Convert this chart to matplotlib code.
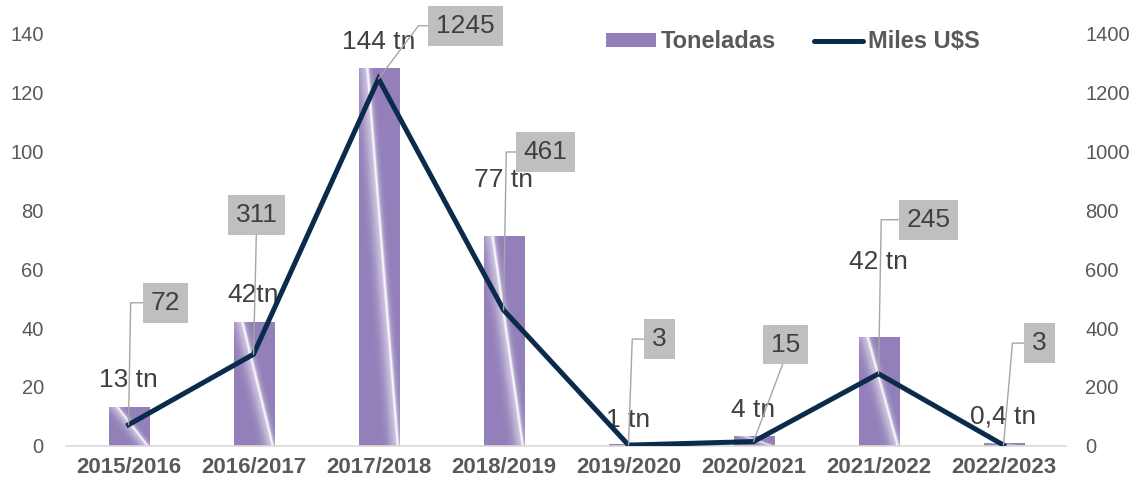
import numpy as np
import matplotlib
matplotlib.use('Agg')
import matplotlib.pyplot as plt
from matplotlib.colors import to_rgb
from matplotlib.patches import Patch
from matplotlib.lines import Line2D

plt.rcParams['font.family'] = ['Liberation Sans', 'DejaVu Sans']

campaigns = ['2015/2016', '2016/2017', '2017/2018', '2018/2019',
             '2019/2020', '2020/2021', '2021/2022', '2022/2023']
toneladas = [13.2, 42, 128, 71.2, 0.8, 3.4, 37, 1.0]
miles_usd = [72, 311, 1245, 461, 3, 15, 245, 3]
ton_labels = ['13 tn', '42tn', '144 tn', '77 tn', '1 tn', '4 tn', '42 tn', '0,4 tn']
usd_labels = ['72', '311', '1245', '461', '3', '15', '245', '3']

BAR_COLOR = '#9380BA'
LINE_COLOR = '#0B2B4C'
TEXT_COLOR = '#404040'
TICK_COLOR = '#595959'

# label placement (pixels)
ton_dy = [27, 27, 26, 56, 24, 26, 75, 27]
usd_offsets = [(37, 122), (3, 139), (87, 53), (42, 158),
               (31, 106), (32, 97), (50, 154), (36, 102)]
usd_leaders = [('angle', 89), ('straight', None), ('angle', 53), ('angle', 89),
               ('angle', 88), ('straight', None), ('angle', 89), ('angle', 85)]


def gradient_image(nx=80, ny=300):
    # white streak from top-left to bottom-right of each bar, soft halo on the left
    u, v = np.meshgrid(np.linspace(0, 1, nx), np.linspace(0, 1, ny))
    u_line = 0.95 - 0.75 * v
    du = u - u_line
    core = np.exp(-(du / 0.05) ** 2)
    halo = np.where(du < 0, 0.55 * np.exp(-(du / 0.2) ** 2), 0.4 * np.exp(-(du / 0.1) ** 2))
    w = np.clip(np.maximum(core, halo), 0, 1)
    base = np.array(to_rgb(BAR_COLOR))
    img = base + (1 - base) * w[..., None] * 0.97
    return np.clip(img, 0, 1)


fig = plt.figure(figsize=(11.48, 4.87), dpi=100)
ax = fig.add_axes([0.0575, 0.0842, 0.8711, 0.8480])
ax2 = ax.twinx()

x = np.arange(len(campaigns))
bars = ax.bar(x, toneladas, width=0.32, color='none', edgecolor='none', zorder=2)
img = gradient_image()
for rect in bars:
    x0, y0 = rect.get_x(), rect.get_y()
    w, h = rect.get_width(), rect.get_height()
    im = ax.imshow(img, extent=(x0, x0 + w, y0, y0 + h), origin='lower',
                   aspect='auto', interpolation='bilinear', zorder=2)
    im.set_clip_path(rect)

ax.set_xlim(-0.5, len(campaigns) - 0.5)
ax.set_ylim(0, 140)
ax.set_yticks(range(0, 141, 20))
ax.set_xticks(x)
ax.set_xticklabels(campaigns, fontsize=16, fontweight='bold', color=TICK_COLOR)

ax2.plot(x, miles_usd, color=LINE_COLOR, lw=3.6, solid_joinstyle='miter', zorder=3)
ax2.set_ylim(0, 1400)
ax2.set_yticks(range(0, 1401, 200))

for a in (ax, ax2):
    for s in a.spines.values():
        s.set_visible(False)
    a.tick_params(length=0, labelsize=14.5, labelcolor=TICK_COLOR)
ax.spines['bottom'].set_visible(True)
ax.spines['bottom'].set_color('#D9D9D9')
ax.spines['bottom'].set_linewidth(1.2)
ax.tick_params(axis='y', pad=16)
ax.tick_params(axis='x', pad=8, labelsize=16)
ax2.tick_params(axis='y', pad=14)

for i, (val, lab) in enumerate(zip(toneladas, ton_labels)):
    ax.annotate(lab, xy=(i, val), xytext=(0, ton_dy[i]), textcoords='offset pixels',
                ha='center', va='center', fontsize=19, color=TEXT_COLOR, zorder=4)

for i, (val, lab) in enumerate(zip(miles_usd, usd_labels)):
    kind, ang = usd_leaders[i]
    if kind == 'angle':
        conn = 'angle,angleA=0,angleB=%g,rad=0' % ang
        rel = (0, 0.5)
    else:
        conn = 'arc3,rad=0'
        rel = (0.5, 0)
    ax2.annotate(lab, xy=(i, val), xytext=usd_offsets[i], textcoords='offset pixels',
                 ha='center', va='center', fontsize=19, color=TEXT_COLOR, zorder=5,
                 bbox=dict(boxstyle='square,pad=0.3', fc='#BFBFBF', ec='none'),
                 arrowprops=dict(arrowstyle='-', color='#A6A6A6', lw=1,
                                 shrinkA=0, shrinkB=0, connectionstyle=conn,
                                 relpos=rel))

handles = [Patch(facecolor=BAR_COLOR, edgecolor='none'),
           Line2D([0], [0], color=LINE_COLOR, lw=3.6, solid_capstyle='round')]
leg = ax2.legend(handles, ['Toneladas', 'Miles U$S'], loc='center',
                 bbox_to_anchor=(793 / 1148, 1 - 42 / 487), bbox_transform=fig.transFigure,
                 ncol=2, frameon=False, handlelength=2.1, handleheight=0.5,
                 handletextpad=0.2, columnspacing=1.6,
                 prop={'size': 17, 'weight': 'bold'})
for t in leg.get_texts():
    t.set_color(TICK_COLOR)

fig.savefig('out.png', dpi=100)
